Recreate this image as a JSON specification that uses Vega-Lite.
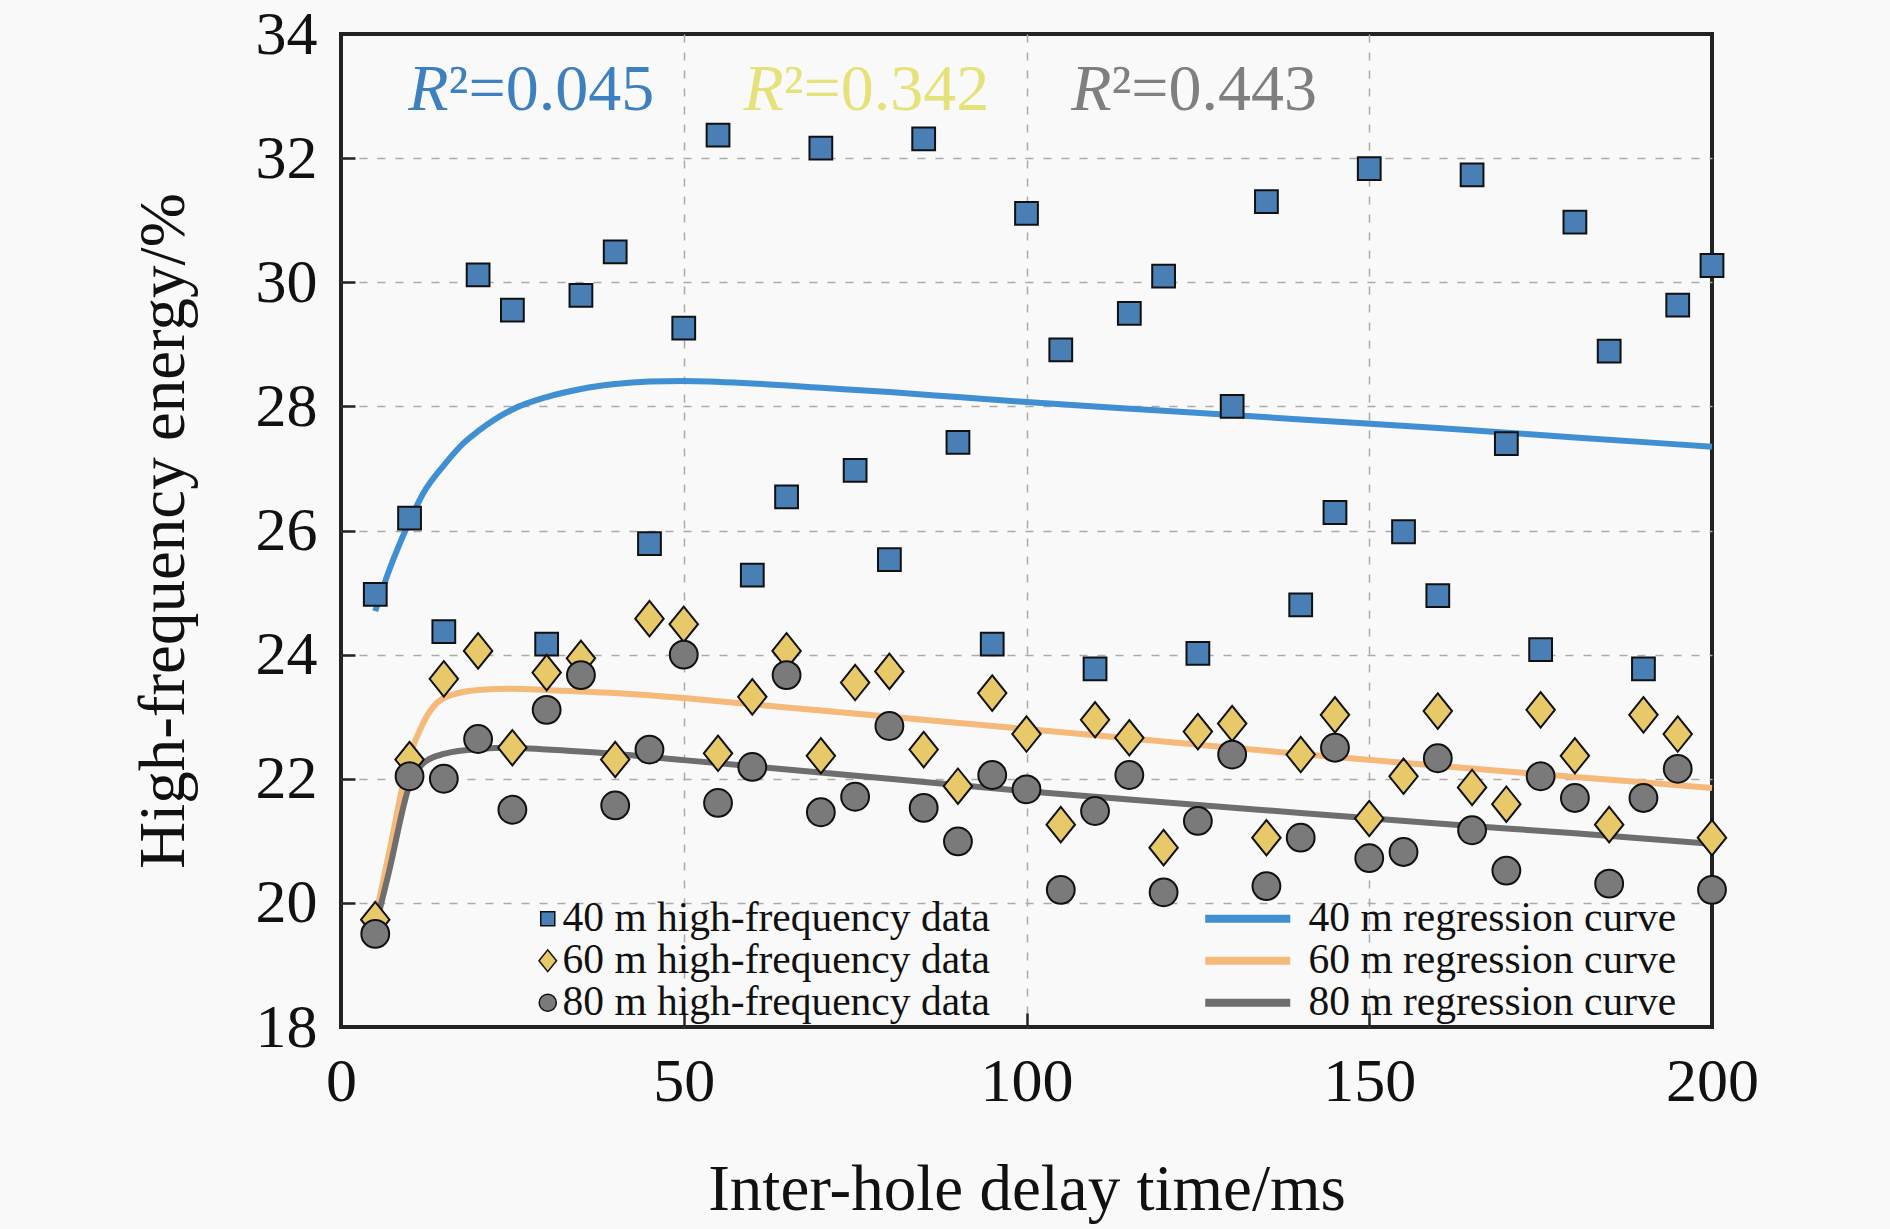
{
  "$schema": "https://vega.github.io/schema/vega-lite/v6.json",
  "width": 1371,
  "height": 993,
  "autosize": {"type": "none"},
  "padding": {"left": 341, "top": 34, "right": 178, "bottom": 202},
  "background": "#f9f9f9",
  "config": {
    "font": "Liberation Serif",
    "view": {"stroke": "#222222", "strokeWidth": 4},
    "axis": {
      "domain": false,
      "tickSize": -14,
      "tickColor": "#222222",
      "tickWidth": 2.5,
      "labelFont": "Liberation Serif",
      "labelFontSize": 62,
      "labelColor": "#111111",
      "titleFont": "Liberation Serif",
      "titleFontSize": 65,
      "titleFontWeight": "normal",
      "titleColor": "#111111",
      "gridColor": "#aaaaaa",
      "gridWidth": 1.5,
      "gridDash": [8, 10],
      "gridOpacity": {"condition": {"test": "datum.value == 0 || datum.value == 200 || datum.value == 18 || datum.value == 34", "value": 0}, "value": 1}
    },
    "legend": {
      "labelFont": "Liberation Serif",
      "labelFontSize": 41.5,
      "labelColor": "#111111",
      "labelLimit": 0,
      "padding": 0
    }
  },
  "datasets": {
    "points": [
      {"delay": 5, "energy": 24.97, "series": "40 m high-frequency data"},
      {"delay": 10, "energy": 26.2, "series": "40 m high-frequency data"},
      {"delay": 15, "energy": 24.37, "series": "40 m high-frequency data"},
      {"delay": 20, "energy": 30.12, "series": "40 m high-frequency data"},
      {"delay": 25, "energy": 29.55, "series": "40 m high-frequency data"},
      {"delay": 30, "energy": 24.17, "series": "40 m high-frequency data"},
      {"delay": 35, "energy": 29.79, "series": "40 m high-frequency data"},
      {"delay": 40, "energy": 30.49, "series": "40 m high-frequency data"},
      {"delay": 45, "energy": 25.79, "series": "40 m high-frequency data"},
      {"delay": 50, "energy": 29.26, "series": "40 m high-frequency data"},
      {"delay": 55, "energy": 32.37, "series": "40 m high-frequency data"},
      {"delay": 60, "energy": 25.28, "series": "40 m high-frequency data"},
      {"delay": 65, "energy": 26.54, "series": "40 m high-frequency data"},
      {"delay": 70, "energy": 32.16, "series": "40 m high-frequency data"},
      {"delay": 75, "energy": 26.97, "series": "40 m high-frequency data"},
      {"delay": 80, "energy": 25.53, "series": "40 m high-frequency data"},
      {"delay": 85, "energy": 32.31, "series": "40 m high-frequency data"},
      {"delay": 90, "energy": 27.42, "series": "40 m high-frequency data"},
      {"delay": 95, "energy": 24.17, "series": "40 m high-frequency data"},
      {"delay": 100, "energy": 31.11, "series": "40 m high-frequency data"},
      {"delay": 105, "energy": 28.91, "series": "40 m high-frequency data"},
      {"delay": 110, "energy": 23.77, "series": "40 m high-frequency data"},
      {"delay": 115, "energy": 29.5, "series": "40 m high-frequency data"},
      {"delay": 120, "energy": 30.1, "series": "40 m high-frequency data"},
      {"delay": 125, "energy": 24.02, "series": "40 m high-frequency data"},
      {"delay": 130, "energy": 28.0, "series": "40 m high-frequency data"},
      {"delay": 135, "energy": 31.3, "series": "40 m high-frequency data"},
      {"delay": 140, "energy": 24.8, "series": "40 m high-frequency data"},
      {"delay": 145, "energy": 26.29, "series": "40 m high-frequency data"},
      {"delay": 150, "energy": 31.83, "series": "40 m high-frequency data"},
      {"delay": 155, "energy": 25.98, "series": "40 m high-frequency data"},
      {"delay": 160, "energy": 24.95, "series": "40 m high-frequency data"},
      {"delay": 165, "energy": 31.73, "series": "40 m high-frequency data"},
      {"delay": 170, "energy": 27.4, "series": "40 m high-frequency data"},
      {"delay": 175, "energy": 24.08, "series": "40 m high-frequency data"},
      {"delay": 180, "energy": 30.97, "series": "40 m high-frequency data"},
      {"delay": 185, "energy": 28.89, "series": "40 m high-frequency data"},
      {"delay": 190, "energy": 23.77, "series": "40 m high-frequency data"},
      {"delay": 195, "energy": 29.63, "series": "40 m high-frequency data"},
      {"delay": 200, "energy": 30.27, "series": "40 m high-frequency data"},
      {"delay": 5, "energy": 19.73, "series": "60 m high-frequency data"},
      {"delay": 10, "energy": 22.31, "series": "60 m high-frequency data"},
      {"delay": 15, "energy": 23.61, "series": "60 m high-frequency data"},
      {"delay": 20, "energy": 24.06, "series": "60 m high-frequency data"},
      {"delay": 25, "energy": 22.5, "series": "60 m high-frequency data"},
      {"delay": 30, "energy": 23.71, "series": "60 m high-frequency data"},
      {"delay": 35, "energy": 23.94, "series": "60 m high-frequency data"},
      {"delay": 40, "energy": 22.31, "series": "60 m high-frequency data"},
      {"delay": 45, "energy": 24.58, "series": "60 m high-frequency data"},
      {"delay": 50, "energy": 24.49, "series": "60 m high-frequency data"},
      {"delay": 55, "energy": 22.41, "series": "60 m high-frequency data"},
      {"delay": 60, "energy": 23.32, "series": "60 m high-frequency data"},
      {"delay": 65, "energy": 24.06, "series": "60 m high-frequency data"},
      {"delay": 70, "energy": 22.37, "series": "60 m high-frequency data"},
      {"delay": 75, "energy": 23.55, "series": "60 m high-frequency data"},
      {"delay": 80, "energy": 23.73, "series": "60 m high-frequency data"},
      {"delay": 85, "energy": 22.47, "series": "60 m high-frequency data"},
      {"delay": 90, "energy": 21.88, "series": "60 m high-frequency data"},
      {"delay": 95, "energy": 23.38, "series": "60 m high-frequency data"},
      {"delay": 100, "energy": 22.72, "series": "60 m high-frequency data"},
      {"delay": 105, "energy": 21.26, "series": "60 m high-frequency data"},
      {"delay": 110, "energy": 22.95, "series": "60 m high-frequency data"},
      {"delay": 115, "energy": 22.66, "series": "60 m high-frequency data"},
      {"delay": 120, "energy": 20.89, "series": "60 m high-frequency data"},
      {"delay": 125, "energy": 22.76, "series": "60 m high-frequency data"},
      {"delay": 130, "energy": 22.89, "series": "60 m high-frequency data"},
      {"delay": 135, "energy": 21.05, "series": "60 m high-frequency data"},
      {"delay": 140, "energy": 22.39, "series": "60 m high-frequency data"},
      {"delay": 145, "energy": 23.03, "series": "60 m high-frequency data"},
      {"delay": 150, "energy": 21.36, "series": "60 m high-frequency data"},
      {"delay": 155, "energy": 22.04, "series": "60 m high-frequency data"},
      {"delay": 160, "energy": 23.09, "series": "60 m high-frequency data"},
      {"delay": 165, "energy": 21.86, "series": "60 m high-frequency data"},
      {"delay": 170, "energy": 21.59, "series": "60 m high-frequency data"},
      {"delay": 175, "energy": 23.11, "series": "60 m high-frequency data"},
      {"delay": 180, "energy": 22.37, "series": "60 m high-frequency data"},
      {"delay": 185, "energy": 21.26, "series": "60 m high-frequency data"},
      {"delay": 190, "energy": 23.03, "series": "60 m high-frequency data"},
      {"delay": 195, "energy": 22.72, "series": "60 m high-frequency data"},
      {"delay": 200, "energy": 21.05, "series": "60 m high-frequency data"},
      {"delay": 5, "energy": 19.5, "series": "80 m high-frequency data"},
      {"delay": 10, "energy": 22.04, "series": "80 m high-frequency data"},
      {"delay": 15, "energy": 22.0, "series": "80 m high-frequency data"},
      {"delay": 20, "energy": 22.64, "series": "80 m high-frequency data"},
      {"delay": 25, "energy": 21.5, "series": "80 m high-frequency data"},
      {"delay": 30, "energy": 23.11, "series": "80 m high-frequency data"},
      {"delay": 35, "energy": 23.67, "series": "80 m high-frequency data"},
      {"delay": 40, "energy": 21.57, "series": "80 m high-frequency data"},
      {"delay": 45, "energy": 22.47, "series": "80 m high-frequency data"},
      {"delay": 50, "energy": 24.0, "series": "80 m high-frequency data"},
      {"delay": 55, "energy": 21.61, "series": "80 m high-frequency data"},
      {"delay": 60, "energy": 22.19, "series": "80 m high-frequency data"},
      {"delay": 65, "energy": 23.67, "series": "80 m high-frequency data"},
      {"delay": 70, "energy": 21.46, "series": "80 m high-frequency data"},
      {"delay": 75, "energy": 21.71, "series": "80 m high-frequency data"},
      {"delay": 80, "energy": 22.85, "series": "80 m high-frequency data"},
      {"delay": 85, "energy": 21.53, "series": "80 m high-frequency data"},
      {"delay": 90, "energy": 20.99, "series": "80 m high-frequency data"},
      {"delay": 95, "energy": 22.06, "series": "80 m high-frequency data"},
      {"delay": 100, "energy": 21.83, "series": "80 m high-frequency data"},
      {"delay": 105, "energy": 20.21, "series": "80 m high-frequency data"},
      {"delay": 110, "energy": 21.48, "series": "80 m high-frequency data"},
      {"delay": 115, "energy": 22.06, "series": "80 m high-frequency data"},
      {"delay": 120, "energy": 20.17, "series": "80 m high-frequency data"},
      {"delay": 125, "energy": 21.32, "series": "80 m high-frequency data"},
      {"delay": 130, "energy": 22.39, "series": "80 m high-frequency data"},
      {"delay": 135, "energy": 20.27, "series": "80 m high-frequency data"},
      {"delay": 140, "energy": 21.05, "series": "80 m high-frequency data"},
      {"delay": 145, "energy": 22.5, "series": "80 m high-frequency data"},
      {"delay": 150, "energy": 20.72, "series": "80 m high-frequency data"},
      {"delay": 155, "energy": 20.82, "series": "80 m high-frequency data"},
      {"delay": 160, "energy": 22.33, "series": "80 m high-frequency data"},
      {"delay": 165, "energy": 21.17, "series": "80 m high-frequency data"},
      {"delay": 170, "energy": 20.52, "series": "80 m high-frequency data"},
      {"delay": 175, "energy": 22.04, "series": "80 m high-frequency data"},
      {"delay": 180, "energy": 21.69, "series": "80 m high-frequency data"},
      {"delay": 185, "energy": 20.31, "series": "80 m high-frequency data"},
      {"delay": 190, "energy": 21.69, "series": "80 m high-frequency data"},
      {"delay": 195, "energy": 22.16, "series": "80 m high-frequency data"},
      {"delay": 200, "energy": 20.21, "series": "80 m high-frequency data"}
    ],
    "curves": [
      {"delay": 5, "energy": 24.7, "series": "40 m regression curve"},
      {"delay": 7, "energy": 25.35, "series": "40 m regression curve"},
      {"delay": 10, "energy": 26.15, "series": "40 m regression curve"},
      {"delay": 12, "energy": 26.6, "series": "40 m regression curve"},
      {"delay": 15, "energy": 27.05, "series": "40 m regression curve"},
      {"delay": 18, "energy": 27.42, "series": "40 m regression curve"},
      {"delay": 20, "energy": 27.6, "series": "40 m regression curve"},
      {"delay": 25, "energy": 27.95, "series": "40 m regression curve"},
      {"delay": 30, "energy": 28.15, "series": "40 m regression curve"},
      {"delay": 35, "energy": 28.28, "series": "40 m regression curve"},
      {"delay": 40, "energy": 28.36, "series": "40 m regression curve"},
      {"delay": 45, "energy": 28.4, "series": "40 m regression curve"},
      {"delay": 50, "energy": 28.41, "series": "40 m regression curve"},
      {"delay": 60, "energy": 28.37, "series": "40 m regression curve"},
      {"delay": 70, "energy": 28.3, "series": "40 m regression curve"},
      {"delay": 80, "energy": 28.23, "series": "40 m regression curve"},
      {"delay": 90, "energy": 28.15, "series": "40 m regression curve"},
      {"delay": 100, "energy": 28.07, "series": "40 m regression curve"},
      {"delay": 120, "energy": 27.93, "series": "40 m regression curve"},
      {"delay": 140, "energy": 27.79, "series": "40 m regression curve"},
      {"delay": 160, "energy": 27.65, "series": "40 m regression curve"},
      {"delay": 180, "energy": 27.5, "series": "40 m regression curve"},
      {"delay": 200, "energy": 27.35, "series": "40 m regression curve"},
      {"delay": 5, "energy": 19.75, "series": "60 m regression curve"},
      {"delay": 7, "energy": 20.8, "series": "60 m regression curve"},
      {"delay": 10, "energy": 22.35, "series": "60 m regression curve"},
      {"delay": 12, "energy": 22.9, "series": "60 m regression curve"},
      {"delay": 15, "energy": 23.3, "series": "60 m regression curve"},
      {"delay": 20, "energy": 23.43, "series": "60 m regression curve"},
      {"delay": 25, "energy": 23.45, "series": "60 m regression curve"},
      {"delay": 30, "energy": 23.43, "series": "60 m regression curve"},
      {"delay": 40, "energy": 23.38, "series": "60 m regression curve"},
      {"delay": 50, "energy": 23.3, "series": "60 m regression curve"},
      {"delay": 60, "energy": 23.2, "series": "60 m regression curve"},
      {"delay": 80, "energy": 23.0, "series": "60 m regression curve"},
      {"delay": 100, "energy": 22.8, "series": "60 m regression curve"},
      {"delay": 120, "energy": 22.6, "series": "60 m regression curve"},
      {"delay": 140, "energy": 22.4, "series": "60 m regression curve"},
      {"delay": 160, "energy": 22.21, "series": "60 m regression curve"},
      {"delay": 180, "energy": 22.03, "series": "60 m regression curve"},
      {"delay": 200, "energy": 21.85, "series": "60 m regression curve"},
      {"delay": 5, "energy": 19.6, "series": "80 m regression curve"},
      {"delay": 7, "energy": 20.5, "series": "80 m regression curve"},
      {"delay": 10, "energy": 21.9, "series": "80 m regression curve"},
      {"delay": 12, "energy": 22.25, "series": "80 m regression curve"},
      {"delay": 15, "energy": 22.4, "series": "80 m regression curve"},
      {"delay": 20, "energy": 22.48, "series": "80 m regression curve"},
      {"delay": 25, "energy": 22.5, "series": "80 m regression curve"},
      {"delay": 30, "energy": 22.47, "series": "80 m regression curve"},
      {"delay": 40, "energy": 22.4, "series": "80 m regression curve"},
      {"delay": 50, "energy": 22.3, "series": "80 m regression curve"},
      {"delay": 60, "energy": 22.2, "series": "80 m regression curve"},
      {"delay": 80, "energy": 22.0, "series": "80 m regression curve"},
      {"delay": 100, "energy": 21.8, "series": "80 m regression curve"},
      {"delay": 120, "energy": 21.62, "series": "80 m regression curve"},
      {"delay": 140, "energy": 21.45, "series": "80 m regression curve"},
      {"delay": 160, "energy": 21.28, "series": "80 m regression curve"},
      {"delay": 180, "energy": 21.12, "series": "80 m regression curve"},
      {"delay": 200, "energy": 20.95, "series": "80 m regression curve"}
    ],
    "fits": [
      {"delay": 15.7, "energy": 33.1, "sym": "R", "rest": "²=0.045", "depth": "40 m"},
      {"delay": 64.6, "energy": 33.1, "sym": "R", "rest": "²=0.342", "depth": "60 m"},
      {"delay": 112.4, "energy": 33.1, "sym": "R", "rest": "²=0.443", "depth": "80 m"}
    ]
  },
  "encoding": {
    "x": {
      "field": "delay",
      "type": "quantitative",
      "scale": {"domain": [0, 200], "nice": false},
      "axis": {
        "values": [0, 50, 100, 150, 200],
        "title": "Inter-hole delay time/ms",
        "labelPadding": 38,
        "titlePadding": 46,
        "labelFlush": false
      }
    },
    "y": {
      "field": "energy",
      "type": "quantitative",
      "scale": {"domain": [18, 34], "nice": false, "zero": false},
      "axis": {
        "values": [18, 20, 22, 24, 26, 28, 30, 32, 34],
        "title": "High-frequency energy/%",
        "labelPadding": 38,
        "titlePadding": 58,
        "labelFlush": false
      }
    }
  },
  "layer": [
    {
      "data": {"name": "curves"},
      "mark": {"type": "line", "strokeWidth": 6, "interpolate": "monotone"},
      "encoding": {
        "stroke": {
          "field": "series",
          "type": "nominal",
          "scale": {
            "domain": ["40 m regression curve", "60 m regression curve", "80 m regression curve"],
            "range": ["#3f8fd2", "#f5b97a", "#6e6e6e"]
          },
          "legend": {
            "title": null,
            "orient": "none",
            "legendX": 886,
            "legendY": 864,
            "symbolType": "M-4.25,0H4.25",
            "symbolSize": 400,
            "symbolStrokeWidth": 8,
            "rowPadding": -6,
            "labelOffset": 40
          }
        }
      }
    },
    {
      "data": {"name": "points"},
      "mark": {"type": "point", "filled": true, "stroke": "#111111", "strokeWidth": 2, "opacity": 1, "size": 1000},
      "encoding": {
        "fill": {
          "field": "series",
          "type": "nominal",
          "scale": {
            "domain": ["40 m high-frequency data", "60 m high-frequency data", "80 m high-frequency data"],
            "range": ["#4a7fb5", "#e8c96a", "#7a7a7a"]
          },
          "legend": {
            "title": null,
            "orient": "none",
            "legendX": 186,
            "legendY": 864,
            "symbolSize": 380,
            "rowPadding": -6,
            "labelOffset": -6,
            "encode": {"symbols": {"update": {"stroke": {"value": "#111111"}, "strokeWidth": {"value": 2}}}}
          }
        },
        "shape": {
          "field": "series",
          "type": "nominal",
          "scale": {
            "domain": ["40 m high-frequency data", "60 m high-frequency data", "80 m high-frequency data"],
            "range": [
              "M-0.72,-0.72H0.72V0.72H-0.72Z",
              "M-0.9,0L0,-1.12L0.9,0L0,1.12Z",
              "M-0.88,0A0.88,0.88 0 1,0 0.88,0A0.88,0.88 0 1,0 -0.88,0Z"
            ]
          },
          "legend": {
            "title": null,
            "orient": "none",
            "legendX": 186,
            "legendY": 864,
            "symbolSize": 380,
            "rowPadding": -6,
            "labelOffset": -6,
            "encode": {"symbols": {"update": {"stroke": {"value": "#111111"}, "strokeWidth": {"value": 2}}}}
          }
        }
      }
    },
    {
      "data": {"name": "fits"},
      "mark": {"type": "text", "align": "right", "baseline": "middle", "fontSize": 66, "fontStyle": "italic", "font": "Liberation Serif"},
      "encoding": {
        "text": {"field": "sym"},
        "color": {
          "field": "depth",
          "type": "nominal",
          "scale": {"domain": ["40 m", "60 m", "80 m"], "range": ["#3d7fbf", "#e6e27a", "#7f7f7f"]},
          "legend": null
        }
      }
    },
    {
      "data": {"name": "fits"},
      "mark": {"type": "text", "align": "left", "baseline": "middle", "fontSize": 66, "font": "Liberation Serif"},
      "encoding": {
        "text": {"field": "rest"},
        "color": {
          "field": "depth",
          "type": "nominal",
          "scale": {"domain": ["40 m", "60 m", "80 m"], "range": ["#3d7fbf", "#e6e27a", "#7f7f7f"]},
          "legend": null
        }
      }
    }
  ]
}
